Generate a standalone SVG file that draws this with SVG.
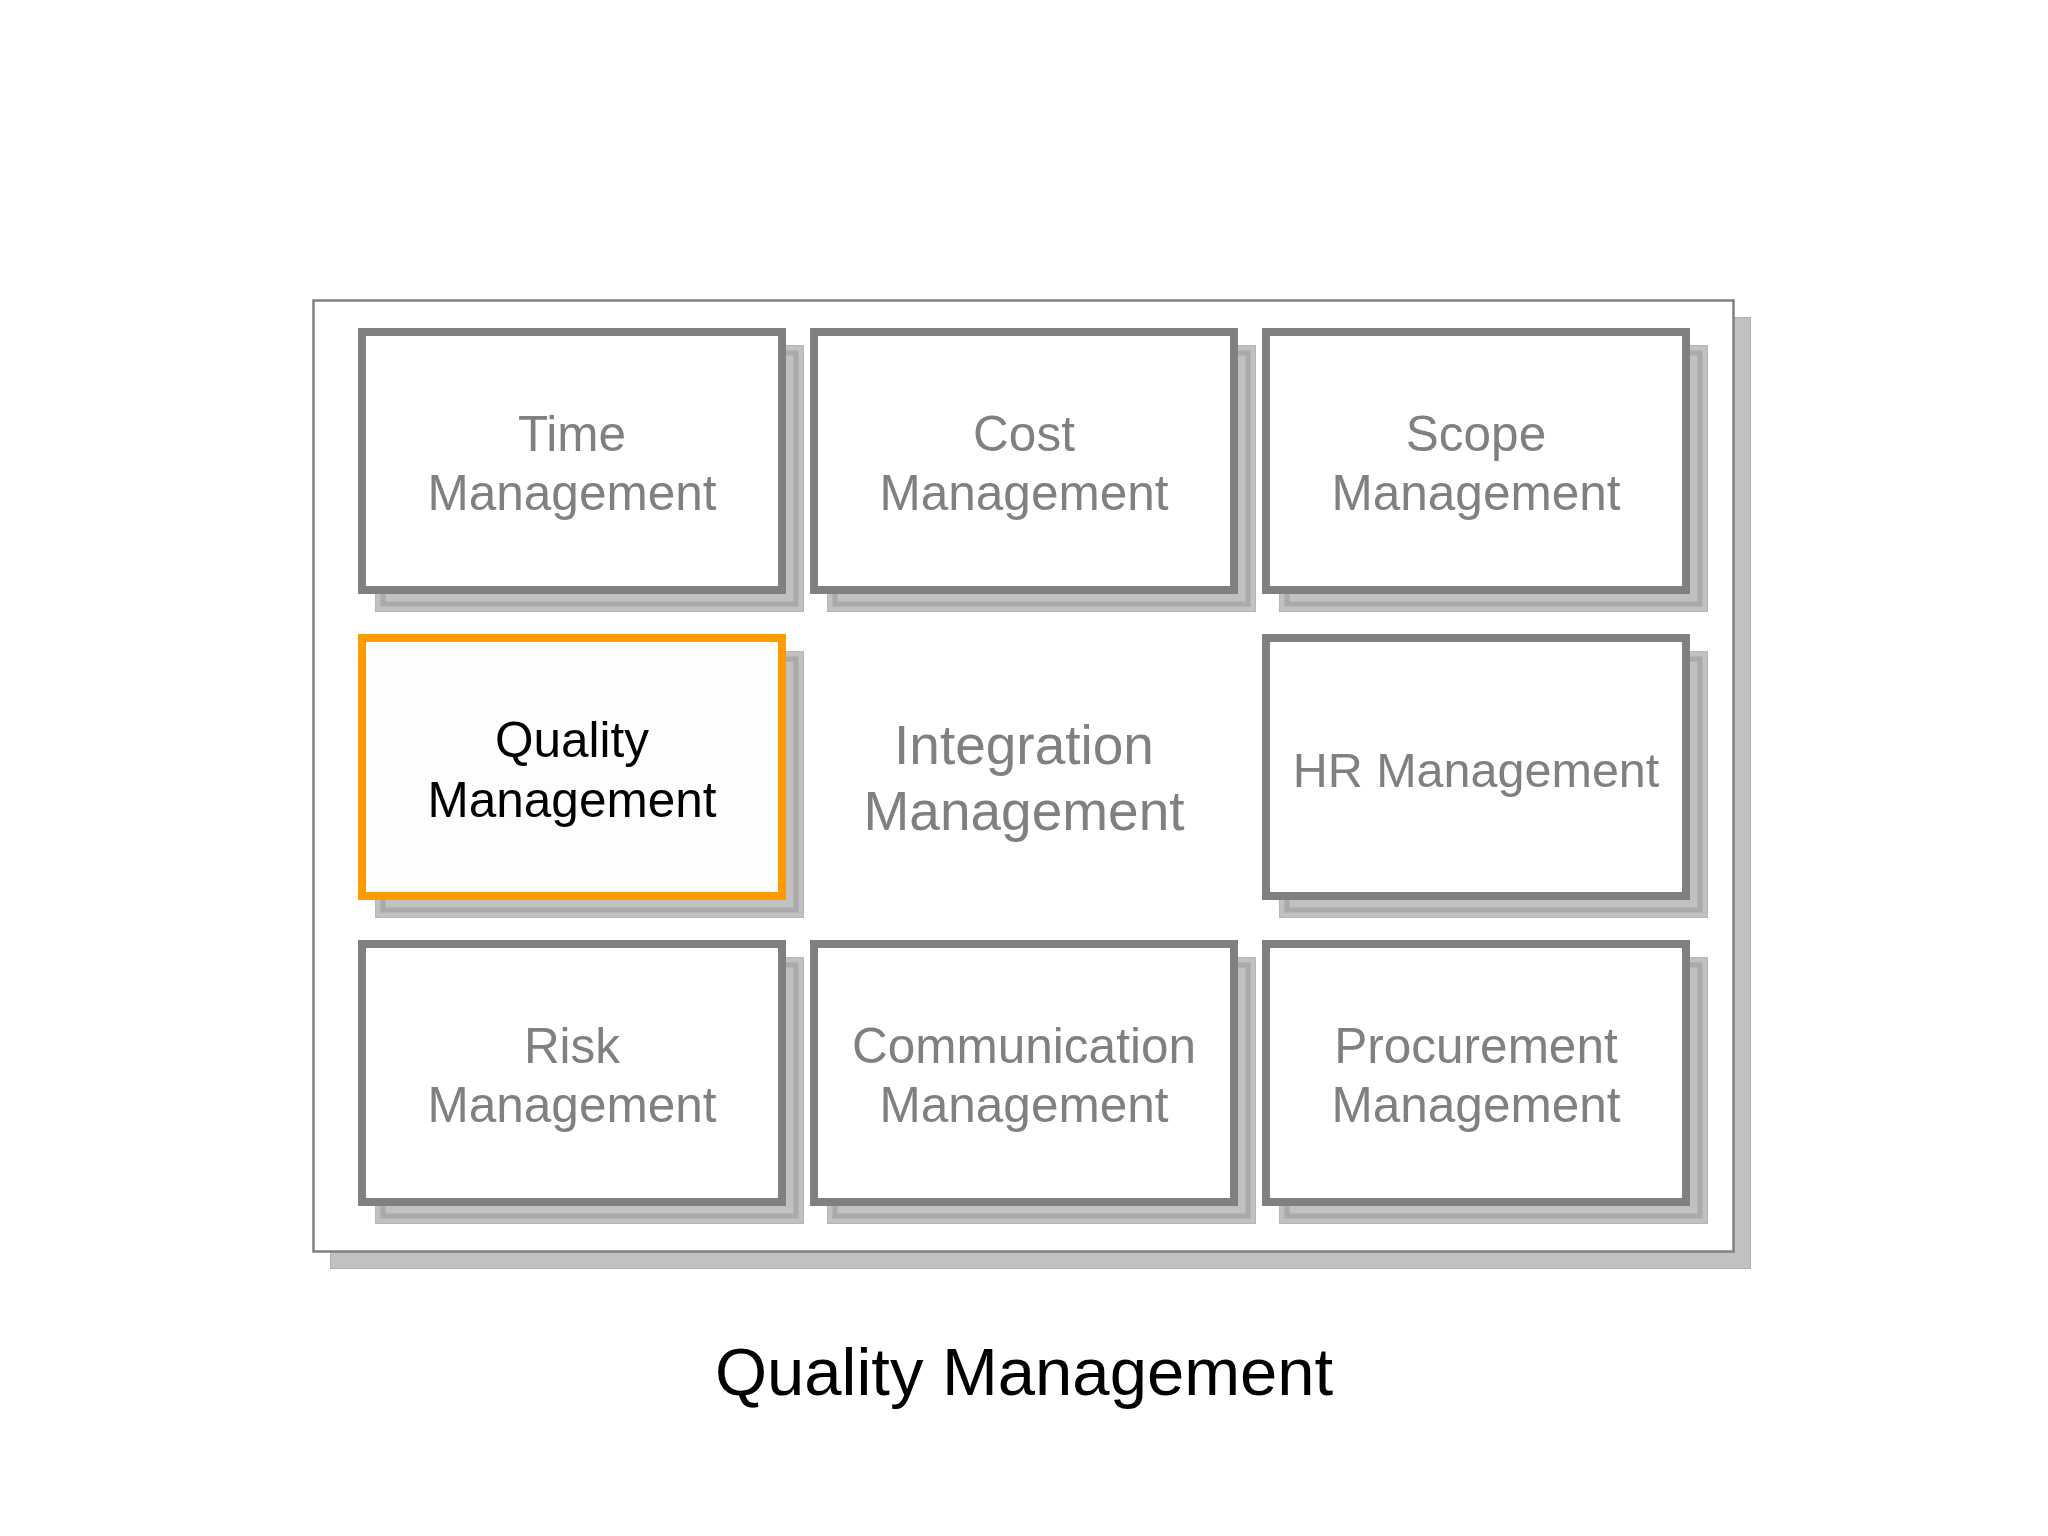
<svg xmlns="http://www.w3.org/2000/svg" width="2048" height="1536" viewBox="0 0 2048 1536">
<style>
.sh{fill:#c1c1c1;stroke:#b5b5b5;stroke-width:1}
.shi{fill:none;stroke:#aaaaaa;stroke-width:5}
.bx{fill:#ffffff;stroke:#808080;stroke-width:8}
.hl{fill:#fdfdfd;stroke:#ff9a00;stroke-width:8}
.t{font-family:"Liberation Sans",Arial,sans-serif;font-size:49.5px;fill:#808080;text-anchor:middle}
.tk{fill:#000000}
</style>
<rect width="2048" height="1536" fill="#ffffff"/>
<g id="frame">
<rect x="330.5" y="317.5" width="1420" height="951" fill="#c1c1c1" stroke="#b0b0b0" stroke-width="1"/>
<rect x="313.5" y="300.5" width="1420" height="951" fill="#ffffff" stroke="#808080" stroke-width="2.5"/>
</g>
<g id="time">
<rect class="sh" x="375.5" y="345.5" width="428" height="266"/><rect class="shi" x="383" y="353" width="413" height="251"/>
<rect class="bx" x="362" y="332" width="420" height="258"/>
<text class="t" x="572" y="451">Time</text><text class="t" x="572" y="510">Management</text>
</g>
<g id="cost">
<rect class="sh" x="827.5" y="345.5" width="428" height="266"/><rect class="shi" x="835" y="353" width="413" height="251"/>
<rect class="bx" x="814" y="332" width="420" height="258"/>
<text class="t" x="1024" y="451">Cost</text><text class="t" x="1024" y="510">Management</text>
</g>
<g id="scope">
<rect class="sh" x="1279.5" y="345.5" width="428" height="266"/><rect class="shi" x="1287" y="353" width="413" height="251"/>
<rect class="bx" x="1266" y="332" width="420" height="258"/>
<text class="t" x="1476" y="451">Scope</text><text class="t" x="1476" y="510">Management</text>
</g>
<g id="quality">
<rect class="sh" x="375.5" y="651.5" width="428" height="266"/><rect class="shi" x="383" y="659" width="413" height="251"/>
<rect class="hl" x="362" y="638" width="420" height="258"/>
<text class="t tk" x="572" y="757">Quality</text><text class="t tk" x="572" y="817">Management</text>
</g>
<g id="integration">
<text class="t" x="1024" y="764" style="font-size:55px">Integration</text><text class="t" x="1024" y="830" style="font-size:55px">Management</text>
</g>
<g id="hr">
<rect class="sh" x="1279.5" y="651.5" width="428" height="266"/><rect class="shi" x="1287" y="659" width="413" height="251"/>
<rect class="bx" x="1266" y="638" width="420" height="258"/>
<text class="t" x="1476" y="787" style="font-size:48.5px">HR Management</text>
</g>
<g id="risk">
<rect class="sh" x="375.5" y="957.5" width="428" height="266"/><rect class="shi" x="383" y="965" width="413" height="251"/>
<rect class="bx" x="362" y="944" width="420" height="258"/>
<text class="t" x="572" y="1063">Risk</text><text class="t" x="572" y="1122">Management</text>
</g>
<g id="communication">
<rect class="sh" x="827.5" y="957.5" width="428" height="266"/><rect class="shi" x="835" y="965" width="413" height="251"/>
<rect class="bx" x="814" y="944" width="420" height="258"/>
<text class="t" x="1024" y="1063">Communication</text><text class="t" x="1024" y="1122">Management</text>
</g>
<g id="procurement">
<rect class="sh" x="1279.5" y="957.5" width="428" height="266"/><rect class="shi" x="1287" y="965" width="413" height="251"/>
<rect class="bx" x="1266" y="944" width="420" height="258"/>
<text class="t" x="1476" y="1063">Procurement</text><text class="t" x="1476" y="1122">Management</text>
</g>
<g id="connectors"/>
<g id="title">
<text x="1024" y="1395" style="font-family:'Liberation Sans',Arial,sans-serif;font-size:67px;fill:#000000;text-anchor:middle">Quality Management</text>
</g>
</svg>
